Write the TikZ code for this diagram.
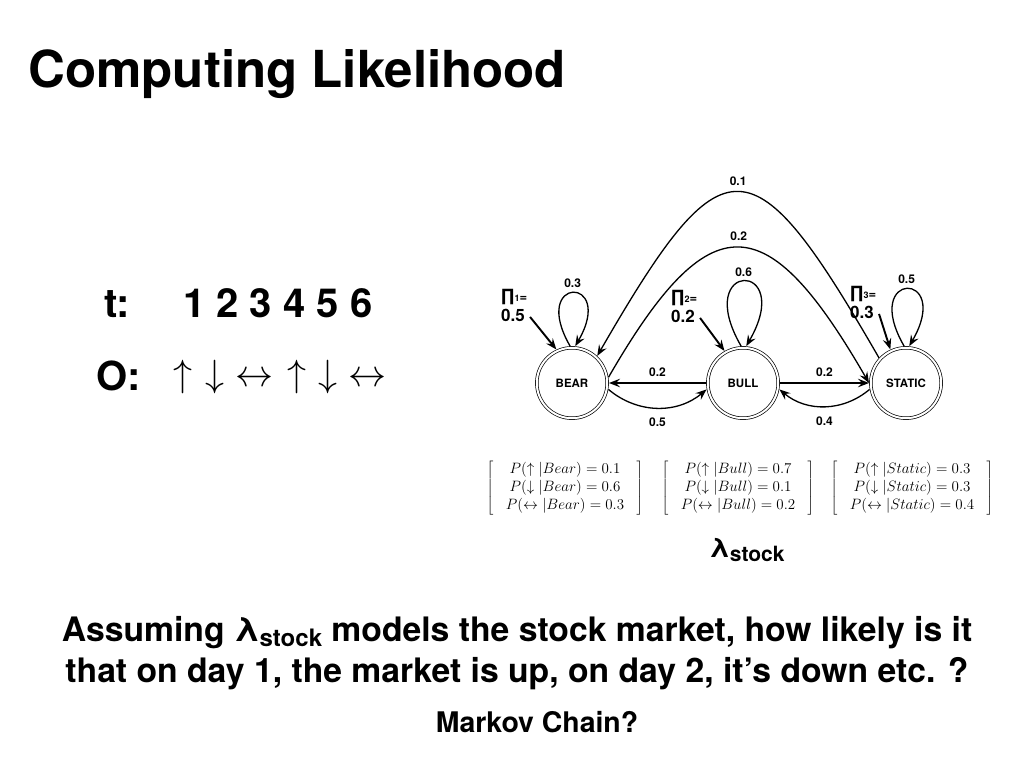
\RequirePackage{fix-cm}
\documentclass[tikz,border=0pt]{standalone}
\usepackage[no-math]{fontspec}
\setmainfont{TeX Gyre Heros}
\newfontfamily\prodfont{DejaVu Sans}
\usetikzlibrary{positioning, arrows.meta}

\newcommand{\fs}[1]{\fontsize{#1}{#1}\selectfont}
\newcommand{\lstock}[1]{λ\raisebox{-0.17em}{\fs{#1}stock}}

\begin{document}
\begin{tikzpicture}[x=1pt, y=-1pt]
	\tikzstyle{txt} = [inner sep=0pt, font={\bfseries}];
	\tikzstyle{state} = [draw, circle, double, double distance=2pt, line width=0.7pt, minimum size=70.4pt, inner sep=0pt, outer sep=1.8pt, font={\fs{11.5}\bfseries}];
	\tikzstyle{trans} = [->, >={Stealth[length=11pt, width=8.5pt, inset=4pt]}, line width=1.3pt, font={\fs{12}\bfseries}];
	\tikzstyle{init} = [->, >={Stealth[length=11pt, width=8.5pt, inset=4pt]}, line width=1.9pt];
	\tikzstyle{emit} = [inner sep=0pt, font={\fontsize{15}{17.8}\selectfont}];

	\useasboundingbox (0,0) rectangle (1024,768);

	% title and observation sequence
	\node[txt, anchor=base west, font={\fs{51}\bfseries}] (title) at (28,87) {Computing Likelihood};
	\node[txt, anchor=base west, font={\fs{40}\bfseries}] (tlab) at (104,317) {t:};
	\node[txt, anchor=base west, font={\fs{40}\bfseries}] (times) at (183,317) {1 2 3 4 5 6};
	\node[txt, anchor=base west, font={\fs{40}\bfseries}] (olab) at (96,390) {O:};
	\node[txt, anchor=base west, font={\fs{38}}] (obs) at (173,386) {$\uparrow$\hspace{13pt}$\downarrow$\hspace{11pt}$\leftrightarrow$\hspace{14pt}$\uparrow$\hspace{12pt}$\downarrow$\hspace{11pt}$\leftrightarrow$};

	% states
	\node[state] (bear) at (572,383) {BEAR};
	\node[state, right=97pt of bear] (bull) {BULL};
	\node[state, right=89pt of bull] (static) {STATIC};

	% transitions
	\draw[trans] (bull) -- node[above=2pt] {0.2} (bear);
	\draw[trans] (bear.-10) to[out=-40, in=-140] node[below=6pt] {0.5} (bull.-170);
	\draw[trans] (bull) -- node[above=2pt] {0.2} (static);
	\draw[trans] (static.-170) to[out=-140, in=-40] node[below=6pt] {0.4} (bull.-10);
	\draw[trans] (bear.9) to[out=60, in=120, looseness=2] node[above=3pt] {0.2} (static.180);
	\draw[trans] (static.137) to[out=120, in=60, looseness=2.3] node[above=3pt] {0.1} (bear.47);

	\foreach \s/\p/\d in {bear/0.3/82, bull/0.6/100, static/0.5/88}
		\draw[trans] (\s.93) to[out=120, in=60, min distance=\d pt] node[above=1pt] {\p} (\s.85);

	% initial probabilities
	\foreach \s/\i/\v/\x/\y/\a in {bear/1/0.5/501/301/115, bull/2/0.2/671/302/120, static/3/0.3/850/298/115} {
		\node[txt, anchor=base west, font={\fs{13}\bfseries}] (pi\i) at (\x,\y) {{\prodfont\fs{17}∏}{\fs{9}\i}=};
		\node[txt, anchor=base west, font={\fs{17}\bfseries}] (pv\i) at (\x,\y+20) {\v};
		\draw[init] ([xshift=5pt, yshift=-2pt]pv\i.east) -- (\s.\a);
	}

	% emission probabilities
	\node[emit] (mbear) at (565,488) {$\left[\;\:\begin{array}{c} P(\uparrow|Bear)=0.1\\ P(\downarrow|Bear)=0.6\\ P(\leftrightarrow|Bear)=0.3 \end{array}\;\:\right]$};
	\node[emit] (mbull) at (738,488) {$\left[\;\:\begin{array}{c} P(\uparrow|Bull)=0.7\\ P(\downarrow|Bull)=0.1\\ P(\leftrightarrow|Bull)=0.2 \end{array}\;\:\right]$};
	\node[emit] (mstatic) at (912,488) {$\left[\;\:\begin{array}{c} P(\uparrow|Static)=0.3\\ P(\downarrow|Static)=0.3\\ P(\leftrightarrow|Static)=0.4 \end{array}\;\:\right]$};
	\node[txt, anchor=base, font={\fs{27}\bfseries}] (lam) at (747,557) {\lstock{21}};

	% question
	\node[txt, anchor=base, font={\fs{33.7}\bfseries}] (q1) at (517,641) {Assuming \lstock{24} models the stock market, how likely is it};
	\node[txt, anchor=base, font={\fs{33.7}\bfseries}] (q2) at ([yshift=-41pt]q1.base) {that on day 1, the market is up, on day 2, it’s down etc. ?};
	\node[txt, anchor=base, font={\fs{28.4}\bfseries}] (mc) at (537,732) {Markov Chain?};
\end{tikzpicture}
\end{document}
